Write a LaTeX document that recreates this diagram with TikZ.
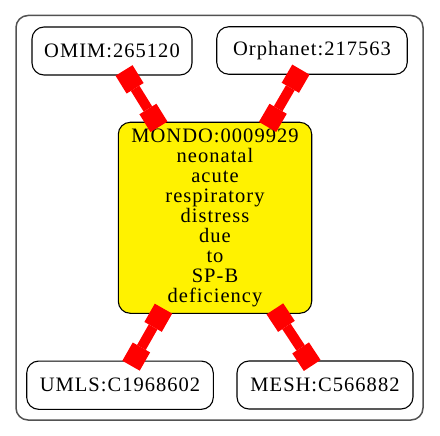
\documentclass[tikz,border=0pt]{standalone}
\usepackage{fontspec}
\setmainfont{Liberation Serif}[LetterSpace=5]
\usetikzlibrary{arrows.meta}
\newcommand\boxfontsel{\fontsize{20.5pt}{19.9pt}\selectfont\lineskiplimit=-30pt\relax}
\begin{document}
\begin{tikzpicture}[x=1pt,y=-1pt,
  frame/.style={draw=black!68, line width=1.5pt, rounded corners=12pt, inner sep=0pt},
  box/.style={draw=black, line width=1.1pt, rounded corners=12pt, inner sep=0pt,
    font=\boxfontsel, align=center},
  boxend/.tip={Rectangle[length=21pt,width=20pt,line width=0pt]},
  link/.style={draw=red, line width=10pt, boxend-boxend, shorten <=-6pt, shorten >=-6pt}]
\useasboundingbox (0,0) rectangle (440,436);
\node[frame, minimum width=407pt, minimum height=404.5pt] (cluster) at (219.5,217.75) {};
\node[box, minimum width=160pt, minimum height=48pt] (omim) at (112,51) {OMIM:265120};
\node[box, minimum width=190.5pt, minimum height=47.5pt] (orpha) at (312,50.5) {Orphanet:217563};
\node[box, fill=yellow, minimum width=193.4pt, minimum height=191pt] (mondo) at (215,217.8)
  {MONDO:0009929\\neonatal\\acute\\respiratory\\distress\\due\\to\\SP-B\\deficiency};
\node[box, minimum width=186.6pt, minimum height=48.3pt] (umls) at (120,385.2) {UMLS:C1968602};
\node[box, minimum width=176pt, minimum height=48pt] (mesh) at (325,385) {MESH:C566882};
\draw[link] (omim) -- (mondo);
\draw[link] (orpha) -- (mondo);
\draw[link] (mondo) -- (umls);
\draw[link] (mondo) -- (mesh);
\end{tikzpicture}
\end{document}
